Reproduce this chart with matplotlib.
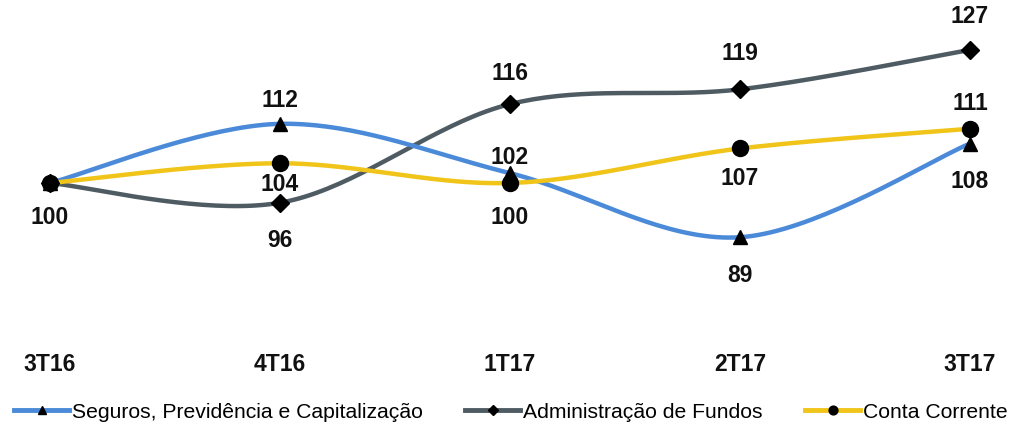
import numpy as np
import matplotlib
matplotlib.use("Agg")
import matplotlib.pyplot as plt
from matplotlib.lines import Line2D

categories = ["3T16", "4T16", "1T17", "2T17", "3T17"]
seguros = [100, 112, 102, 89, 108]
fundos = [100, 96, 116, 119, 127]
conta = [100, 104, 100, 107, 111]
series_names = ["Seguros, Previdência e Capitalização", "Administração de Fundos", "Conta Corrente"]

# label placement (pixel offsets, + = up)
off_seguros = [None, 23, 16, -38, -38]
off_fundos = [-35, -38, 31, 36, 33]
off_conta = [None, -21, -35, -30, 25]

colors = ["#4A8AD8", "#4E5B63", "#F0C419"]
markers = ["^", "D", "o"]
msizes = [10, 9, 11.5]

plt.rcParams['font.family'] = ['Liberation Sans', 'DejaVu Sans']

fig = plt.figure(figsize=(10.22, 4.26), dpi=100)
ax = fig.add_axes([0, 0, 1, 1])
ax.set_xlim(-50 / 230, 4 + 52 / 230)
ppu = 4.93
ax.set_ylim(100 - (426 - 183) / ppu, 100 + 183 / ppu)
ax.axis("off")


def smooth(x, y, n=40):
    x = np.asarray(x, float)
    y = np.asarray(y, float)
    P = np.column_stack([x, y])
    pts = []
    for i in range(len(P) - 1):
        p0 = P[i - 1] if i > 0 else P[i]
        p1 = P[i]
        p2 = P[i + 1]
        p3 = P[i + 2] if i + 2 < len(P) else P[i + 1]
        c1 = p1 + (p2 - p0) / 6
        c2 = p2 - (p3 - p1) / 6
        t = np.linspace(0, 1, n)[:, None]
        seg = (1 - t) ** 3 * p1 + 3 * (1 - t) ** 2 * t * c1 + 3 * (1 - t) * t ** 2 * c2 + t ** 3 * p2
        pts.append(seg if i == 0 else seg[1:])
    pts = np.vstack(pts)
    return pts[:, 0], pts[:, 1]


xs = np.arange(len(categories))
all_series = [seguros, fundos, conta]
all_offs = [off_seguros, off_fundos, off_conta]
order = [1, 0, 2]
for k in order:
    vals = all_series[k]
    sx, sy = smooth(xs, vals)
    ax.plot(sx, sy, color=colors[k], lw=3.2, solid_capstyle="round", zorder=2)
    ax.plot(xs, vals, ls="none", marker=markers[k], color="black", ms=msizes[k], zorder=4)
    for i, v in enumerate(vals):
        o = all_offs[k][i]
        if o is None:
            continue
        ax.annotate(f"{v}", (xs[i], v), xytext=(0, o * 0.72), textcoords="offset points",
                    ha="center", va="center", fontsize=16.5, fontweight="bold", color="#111111",
                    zorder=5)

# category labels
y_cat = 100 - (365 - 183) / ppu
for i, c in enumerate(categories):
    ax.text(xs[i], y_cat, c, ha="center", va="center", fontsize=16.5, fontweight="bold", color="#111111")

handles = [Line2D([0], [0], color=colors[k], lw=3.5, marker=markers[k], mfc="black", mec="black",
                  ms=msizes[k] * 0.55) for k in range(3)]
leg = fig.legend(handles, series_names, loc="center", bbox_to_anchor=(0.5, 1 - 412 / 426), ncol=3,
                 frameon=False, fontsize=15.2, handlelength=2.6, columnspacing=2.0, handletextpad=0.15,
                 borderpad=0, borderaxespad=0)

fig.savefig("out.png", dpi=100)
